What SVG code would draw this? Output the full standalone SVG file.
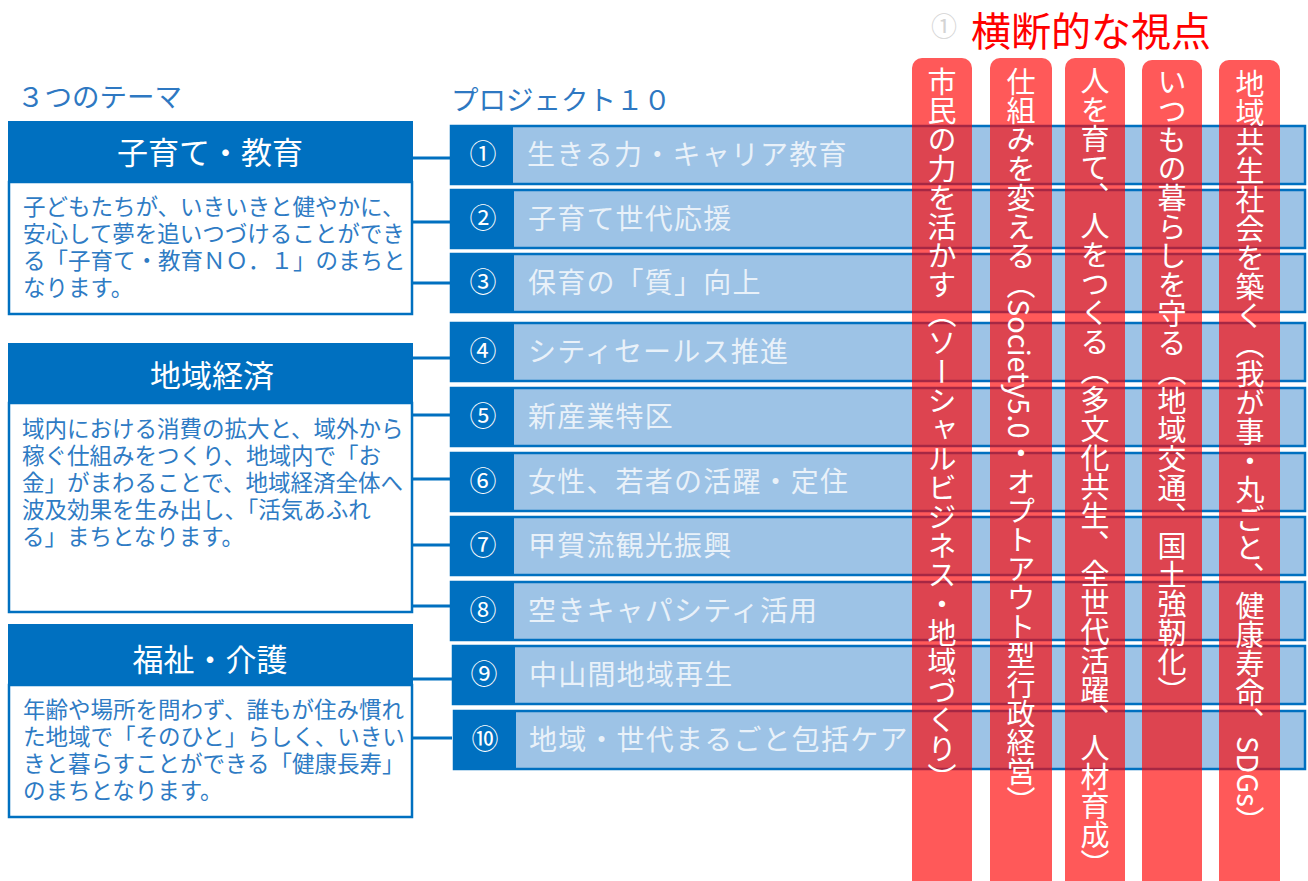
<svg xmlns="http://www.w3.org/2000/svg" width="1308" height="881" viewBox="0 0 1308 881">
<style>
text{font-family:"Noto Sans CJK JP","Noto Sans CJK SC",sans-serif;}
.lbl{font-size:27.5px;fill:#2E78C2;}
.hd{fill:#0070C0;}
.body{fill:#fff;stroke:#0070C0;stroke-width:2.5;}
.ht{font-size:31px;fill:#fff;text-anchor:middle;}
.bt{font-size:22.5px;fill:#2E7BC4;}
.bar{fill:#9DC3E6;stroke:#0070C0;stroke-width:2.5;}
.num{fill:#0070C0;}
.nt{font-size:27px;fill:#fff;text-anchor:middle;}
.pt{font-size:28px;fill:#fff;fill-opacity:0.78;letter-spacing:1.2px;}
.col{fill:#FF0000;fill-opacity:0.65;}
.ct{font-size:29px;fill:#fff;writing-mode:vertical-rl;}
.cn{stroke:#0070C0;stroke-width:3;fill:none;}
</style>

<text class="lbl" x="17" y="107">３つのテーマ</text>
<text class="lbl" x="451" y="110">プロジェクト１０</text>

<g id="theme1">
<rect class="body" x="9" y="182" width="403" height="132"/>
<rect class="hd" x="8" y="121" width="405" height="61"/>
<text class="ht" x="210" y="164">子育て・教育</text>
<text class="bt" x="23" y="215">子どもたちが、いきいきと健やかに、</text>
<text class="bt" x="23" y="242">安心して夢を追いつづけることができ</text>
<text class="bt" x="23" y="269">る「子育て・教育ＮＯ．１」のまちと</text>
<text class="bt" x="23" y="296">なります。</text>
</g>

<g id="theme2">
<rect class="body" x="9" y="403" width="403" height="209"/>
<rect class="hd" x="8" y="343" width="405" height="60"/>
<text class="ht" x="212" y="387">地域経済</text>
<text class="bt" x="22" y="437">域内における消費の拡大と、域外から</text>
<text class="bt" x="22" y="464">稼ぐ仕組みをつくり、地域内で「お</text>
<text class="bt" x="22" y="491">金」がまわることで、地域経済全体へ</text>
<text class="bt" x="22" y="518">波及効果を生み出し、「活気あふれ</text>
<text class="bt" x="22" y="545">る」まちとなります。</text>
</g>

<g id="theme3">
<rect class="body" x="9" y="685" width="403" height="132"/>
<rect class="hd" x="8" y="624" width="405" height="61"/>
<text class="ht" x="210" y="671">福祉・介護</text>
<text class="bt" x="23" y="718">年齢や場所を問わず、誰もが住み慣れ</text>
<text class="bt" x="23" y="745">た地域で「そのひと」らしく、いきい</text>
<text class="bt" x="23" y="772">きと暮らすことができる「健康長寿」</text>
<text class="bt" x="23" y="799">のまちとなります。</text>
</g>

<g id="connectors">
<line class="cn" x1="412" y1="158" x2="451" y2="158"/>
<line class="cn" x1="412" y1="222" x2="451" y2="222"/>
<line class="cn" x1="412" y1="283" x2="451" y2="283"/>
<line class="cn" x1="412" y1="358" x2="451" y2="358"/>
<line class="cn" x1="412" y1="415" x2="451" y2="415"/>
<line class="cn" x1="412" y1="479" x2="451" y2="479"/>
<line class="cn" x1="412" y1="545" x2="451" y2="545"/>
<line class="cn" x1="412" y1="606" x2="451" y2="606"/>
<line class="cn" x1="412" y1="679" x2="452" y2="679"/>
<line class="cn" x1="412" y1="738" x2="452" y2="738"/>
</g>

<g id="p1"><rect class="bar" x="451" y="126" width="854" height="58"/><rect class="num" x="450" y="126" width="63" height="58"/><text class="nt" x="483" y="164">①</text><text class="pt" x="527" y="165">生きる力・キャリア教育</text></g>
<g id="p2"><rect class="bar" x="451" y="190" width="854" height="58"/><rect class="num" x="451" y="190" width="63" height="58"/><text class="nt" x="483" y="228">②</text><text class="pt" x="528" y="229">子育て世代応援</text></g>
<g id="p3"><rect class="bar" x="451" y="254" width="854" height="58"/><rect class="num" x="451" y="254" width="63" height="58"/><text class="nt" x="483" y="292">③</text><text class="pt" x="528" y="293">保育の「質」向上</text></g>
<g id="p4"><rect class="bar" x="451" y="323" width="854" height="58"/><rect class="num" x="451" y="323" width="63" height="58"/><text class="nt" x="483" y="361">④</text><text class="pt" x="528" y="362">シティセールス推進</text></g>
<g id="p5"><rect class="bar" x="451" y="388" width="854" height="58"/><rect class="num" x="451" y="388" width="63" height="58"/><text class="nt" x="483" y="426">⑤</text><text class="pt" x="528" y="427">新産業特区</text></g>
<g id="p6"><rect class="bar" x="451" y="453" width="854" height="58"/><rect class="num" x="451" y="453" width="63" height="58"/><text class="nt" x="483" y="491">⑥</text><text class="pt" x="528" y="492">女性、若者の活躍・定住</text></g>
<g id="p7"><rect class="bar" x="451" y="517" width="854" height="58"/><rect class="num" x="451" y="517" width="63" height="58"/><text class="nt" x="483" y="555">⑦</text><text class="pt" x="528" y="556">甲賀流観光振興</text></g>
<g id="p8"><rect class="bar" x="451" y="582" width="854" height="58"/><rect class="num" x="451" y="582" width="63" height="58"/><text class="nt" x="483" y="620">⑧</text><text class="pt" x="528" y="621">空きキャパシティ活用</text></g>
<g id="p9"><rect class="bar" x="453" y="646" width="852" height="58"/><rect class="num" x="452" y="646" width="63" height="58"/><text class="nt" x="484" y="684">⑨</text><text class="pt" x="529" y="685">中山間地域再生</text></g>
<g id="p10"><rect class="bar" x="454" y="711" width="851" height="58"/><rect class="num" x="453" y="711" width="63" height="58"/><text class="nt" x="485" y="749">⑩</text><text class="pt" x="529" y="750">地域・世代まるごと包括ケア</text></g>

<g id="perspective">
<text x="944" y="36" style="font-size:26px;fill:#d4d4d4;text-anchor:middle;">①</text>
<text x="971" y="46" style="font-size:40px;fill:#FF0000;">横断的な視点</text>
</g>

<g id="v1"><path class="col" d="M912,881V68a10,10 0 0 1 10,-10H962a10,10 0 0 1 10,10V881Z"/><text class="ct" x="942" y="67">市民の力を活かす（ソーシャルビジネス・地域づくり）</text></g>
<g id="v2"><path class="col" d="M990,881V68a10,10 0 0 1 10,-10H1042a10,10 0 0 1 10,10V881Z"/><text class="ct" x="1021" y="67">仕組みを変える（Society5.0・オプトアウト型行政経営）</text></g>
<g id="v3"><path class="col" d="M1065,881V68a10,10 0 0 1 10,-10H1115a10,10 0 0 1 10,10V881Z"/><text class="ct" x="1095" y="66">人を育て、人をつくる（多文化共生、全世代活躍、人材育成）</text></g>
<g id="v4"><path class="col" d="M1142,881V70a10,10 0 0 1 10,-10H1192a10,10 0 0 1 10,10V881Z"/><text class="ct" x="1172" y="67">いつもの暮らしを守る（地域交通、国土強靭化）</text></g>
<g id="v5"><path class="col" d="M1219,881V70a10,10 0 0 1 10,-10H1270a10,10 0 0 1 10,10V881Z"/><text class="ct" x="1250" y="69">地域共生社会を築く（我が事・丸ごと、健康寿命、SDGs）</text></g>
</svg>
